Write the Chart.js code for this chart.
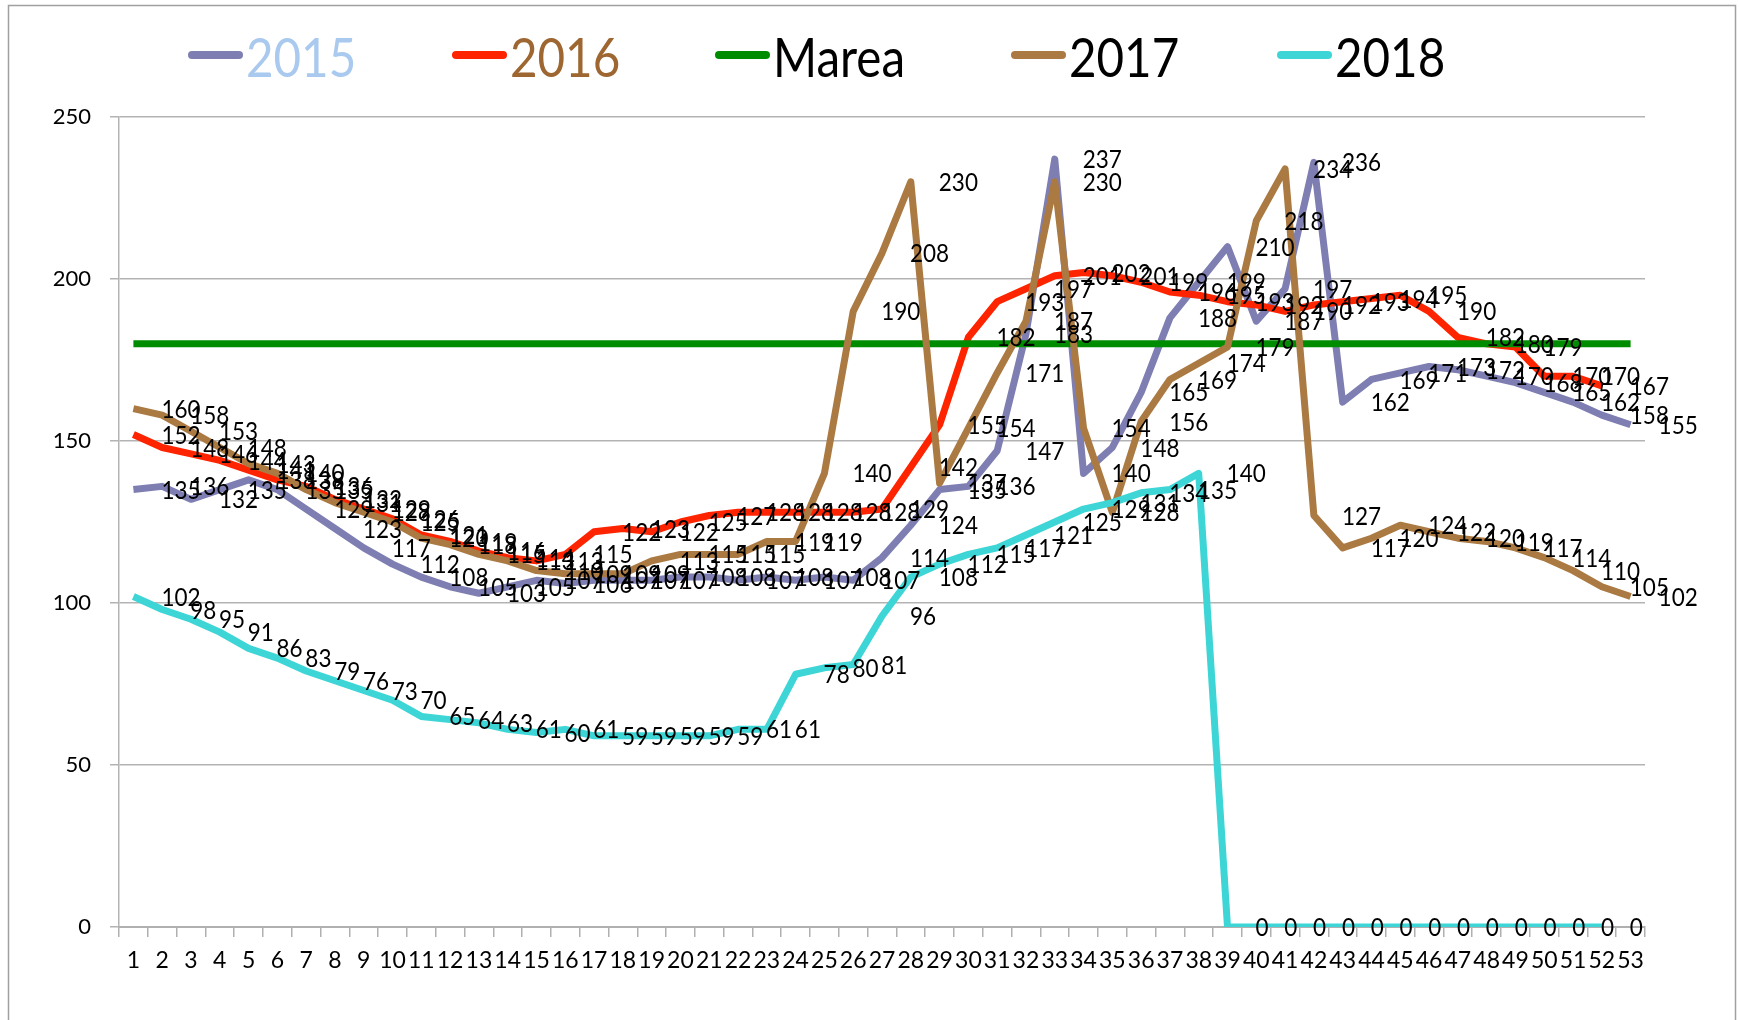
<!DOCTYPE html>
<html><head><meta charset="utf-8">
<script src="https://cdn.jsdelivr.net/npm/chart.js@4.4.1/dist/chart.umd.min.js"></script>
<style>html,body{margin:0;padding:0;background:#fff}#wrap{position:relative;width:1739px;height:1020px}</style>
</head><body><div id="wrap"><canvas id="c"></canvas></div>
<script>
const weeks = ["1","2","3","4","5","6","7","8","9","10","11","12","13","14","15","16","17","18","19","20","21","22","23","24","25","26","27","28","29","30","31","32","33","34","35","36","37","38","39","40","41","42","43","44","45","46","47","48","49","50","51","52","53"];
const seriesNames = ["2015","2016","Marea","2017","2018"];
const v2015 = [135,136,132,135,138,135,129,123,117,112,108,105,103,105,107,106,107,107,107,108,108,107,108,107,108,107,114,124,135,136,147,183,237,140,148,165,188,199,210,187,197,236,162,169,171,173,172,170,168,165,162,158,155];
const v2016 = [152,148,146,144,141,138,136,132,129,126,121,119,116,114,113,115,122,123,122,125,127,128,128,128,128,128,129,142,155,182,193,197,201,202,201,199,196,195,193,192,190,192,193,194,195,190,182,180,179,170,170,167];
const vMarea = [180,180,180,180,180,180,180,180,180,180,180,180,180,180,180,180,180,180,180,180,180,180,180,180,180,180,180,180,180,180,180,180,180,180,180,180,180,180,180,180,180,180,180,180,180,180,180,180,180,180,180,180,180];
const v2017 = [160,158,153,148,143,140,135,131,128,125,120,118,115,113,110,109,109,109,113,115,115,115,119,119,140,190,208,230,137,154,171,187,230,154,128,156,169,174,179,218,234,127,117,120,124,122,120,119,117,114,110,105,102];
const v2018 = [102,98,95,91,86,83,79,76,73,70,65,64,63,61,60,61,59,59,59,59,59,61,61,78,80,81,96,108,112,115,117,121,125,129,131,134,135,140,0,0,0,0,0,0,0,0,0,0,0,0,0,0];
const yTicks = [0,50,100,150,200,250];

const colors = ['#7e7eb2','#ff2400','#008c00','#aa7a42','#3dd5d5'];
const legendText = ['#a9c9ee','#9e6630','#000000','#000000','#000000'];
const showLabels = [true,true,false,true,true];
const legendX = [188,452,715,1011,1277];

const framePlugin = {
  id:'frame',
  beforeDraw(chart){
    const c = chart.ctx;
    c.save();
    c.fillStyle='#fff'; c.fillRect(0,0,chart.width,chart.height);
    c.strokeStyle='#a0a0a0'; c.lineWidth=1.5;
    c.strokeRect(8.5,5.5,1727,1040);
    c.restore();
  }
};
const labelPlugin = {
  id:'vlabels',
  afterDatasetsDraw(chart){
    const c = chart.ctx;
    c.save();
    c.font = '25px Lato';
    c.fillStyle = '#000';
    c.textAlign = 'left';
    c.textBaseline = 'middle';
    chart.data.datasets.forEach((ds,i)=>{
      if(!showLabels[i]) return;
      const meta = chart.getDatasetMeta(i);
      meta.data.forEach((pt,j)=>{
        const v = ds.data[j];
        if(v===null||v===undefined) return;
        c.save();
        c.translate(pt.x+28, pt.y+1);
        c.scale(0.9,1);
        c.fillText(String(v),0,0);
        c.restore();
      });
    });
    c.restore();
  }
};
const legendPlugin = {
  id:'mylegend',
  afterDraw(chart){
    const c = chart.ctx;
    c.save();
    chart.data.datasets.forEach((ds,i)=>{
      const x = legendX[i];
      c.strokeStyle = ds.borderColor; c.lineWidth = 8; c.lineCap='round';
      c.beginPath(); c.moveTo(x+4,55); c.lineTo(x+51,55); c.stroke();
      c.save();
      c.translate(x+58,60);
      c.scale(0.88,1);
      c.font = '54px Lato';
      c.fillStyle = legendText[i];
      c.textAlign='left'; c.textBaseline='middle';
      c.fillText(ds.label,0,0);
      c.restore();
    });
    c.restore();
  }
};

const vals = [v2015,v2016,vMarea,v2017,v2018];
const datasets = seriesNames.map((n,i)=>({
  label:n, data:vals[i], borderColor:colors[i], backgroundColor:colors[i],
  borderWidth:7, pointRadius:0, pointHoverRadius:0, tension:0, fill:false,
  borderJoinStyle:'round', borderCapStyle:'butt', order:5-i
}));

new Chart(document.getElementById('c'),{
  type:'line',
  data:{labels:weeks, datasets},
  options:{
    responsive:true, maintainAspectRatio:false, animation:false,
    layout:{padding:{top:117,right:94,left:0,bottom:0}},
    plugins:{legend:{display:false}, tooltip:{enabled:false}},
    scales:{
      x:{type:'category', offset:true,
        grid:{display:true, offset:true, drawOnChartArea:false, drawTicks:true, tickLength:10, color:'#b0b0b0', lineWidth:1.5},
        border:{display:true, color:'#b0b0b0', width:2},
        ticks:{font:{family:'Lato',size:23}, color:'#000', padding:10, autoSkip:false, maxRotation:0, minRotation:0},
        afterFit(s){ s.height = 93; }
      },
      y:{min:0, max:250,
        afterBuildTicks(s){ s.ticks = yTicks.map(v=>({value:v})); },
        grid:{color:'#b3b3b3', lineWidth:1.5, tickLength:9, drawTicks:true},
        border:{display:true, color:'#b3b3b3', width:1.5},
        ticks:{font:{family:'Lato',size:22}, color:'#000', padding:19},
        afterFit(s){ s.width = 119; }
      }
    }
  },
  plugins:[framePlugin,labelPlugin,legendPlugin]
});
</script></body></html>
